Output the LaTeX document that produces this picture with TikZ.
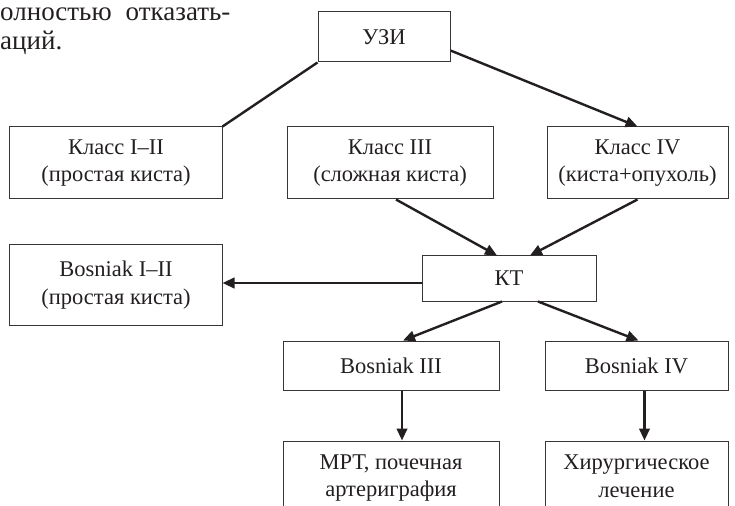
\documentclass[tikz,border=0pt]{standalone}
\usepackage{fontspec}
\setmainfont{Liberation Serif}
\usetikzlibrary{arrows.meta,calc}
\newcommand\boxfont{\fontsize{22.5bp}{27.5bp}\selectfont}
\newcommand\bodyfont{\fontsize{27bp}{29bp}\selectfont}
\definecolor{ink}{HTML}{231F20}
\begin{document}
\begin{tikzpicture}[x=1bp,y=-1bp,
  box/.style={draw=ink!90, line width=1bp, inner sep=0pt, align=center, font=\boxfont, text=ink},
  txt/.style={inner sep=0pt, align=center, font=\boxfont, text=ink},
  conn/.style={line width=2.4bp, draw=ink},
  arr/.style={conn, -{Triangle[length=12bp,width=10.5bp]}}]
\useasboundingbox (0,0) rectangle (735,506);
\clip (0,0) rectangle (735,506);
% body text fragments
\node[anchor=base west, inner sep=0pt, font=\bodyfont, text=ink] (t1) at (0,21) {олностью\hspace{14bp}отказать-};
\node[anchor=base west, inner sep=0pt, font=\bodyfont, text=ink] (t2) at (0,50) {аций.};
% boxes
\node[box, minimum width=132bp, minimum height=50bp] (uzi) at (384,37) {УЗИ};
\node[box, minimum width=212bp, minimum height=72bp] (k1) at (116,163) {Класс I–II\\(простая киста)};
\node[box, minimum width=206bp, minimum height=72bp] (k3) at (390,163) {Класс III\\(сложная киста)};
\node[box, minimum width=181bp, minimum height=72bp] (k4) at (637.5,163) {Класс IV\\(киста+опухоль)};
\node[box, minimum width=212bp, minimum height=80bp] (b12) at (116,285) {Bosniak I–II\\(простая киста)};
\node[box, minimum width=174bp, minimum height=45bp] (kt) at (509,278.5) {КТ};
\node[box, minimum width=216bp, minimum height=49bp] (b3) at (391,365.5) {Bosniak III};
\node[box, minimum width=183bp, minimum height=49bp] (b4) at (636.5,365.5) {Bosniak IV};
\node[box, minimum width=216bp, minimum height=89bp] (mrt) at (391,485.5) {};
\node[box, minimum width=183bp, minimum height=89bp] (hir) at (636.5,485.5) {};
\node[txt] (mrtt) at (391,478) {МРТ, почечная\\артериграфия};
\node[txt] (hirt) at (636.5,476) {Хирургическое\\лечение};
% connectors
\draw[conn] (uzi.south west) -- (k1.north east);
\draw[arr] ($(uzi.south east)+(0,-12)$) -- (k4.north);
\draw[arr] ($(k3.south)+(6,0)$) -- ($(kt.north)+(-12,0)$);
\draw[arr] (k4.south) -- ($(kt.north)+(21,0)$);
\coordinate (p) at ($(kt.west)+(0,4.5)$);
\draw[arr] (p) -- (p -| b12.east);
\draw[arr] ($(kt.south)+(-7,0)$) -- ($(b3.north)+(12,0)$);
\draw[arr] ($(kt.south)+(29,0)$) -- ($(b4.north)+(2,0)$);
\coordinate (q3) at ($(b3.south)+(11,0)$);
\draw[arr] (q3) -- (q3 |- mrt.north);
\coordinate (q4) at ($(b4.south)+(8,0)$);
\draw[arr] (q4) -- (q4 |- hir.north);
\end{tikzpicture}
\end{document}
